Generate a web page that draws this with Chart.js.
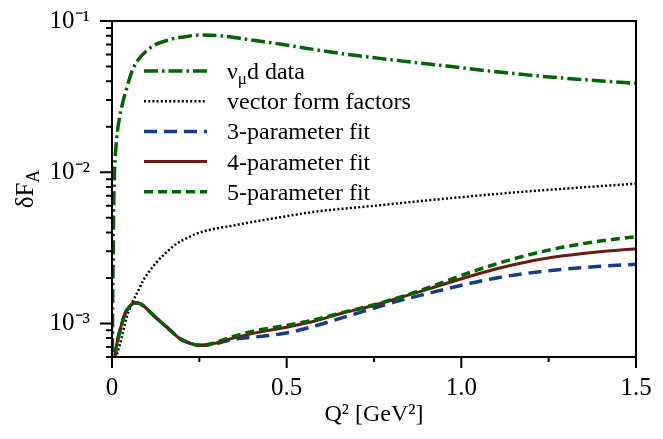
<!DOCTYPE html>
<html><head><meta charset="utf-8">
<script src="https://cdn.jsdelivr.net/npm/chart.js@4/dist/chart.umd.min.js"></script>
<style>html,body{margin:0;padding:0;background:#fff;} #wrap{width:663px;height:439px;}</style>
</head><body><div id="wrap"><canvas id="c" width="663" height="439"></canvas></div>
<script>
// ---- tick values / labels ----
const xTickValues = [0, 0.5, 1.0, 1.5];
const xTickLabels = ['0', '0.5', '1.0', '1.5'];
const xMinorTicks = [0.25, 0.75, 1.25];
const yTickValues = [1e-3, 1e-2, 1e-1];
const yTickLabels = ['10⁻³', '10⁻²', '10⁻¹'];
const yMinorTicks = [6e-4, 7e-4, 8e-4, 9e-4, 2e-3, 3e-3, 4e-3, 5e-3, 6e-3, 7e-3, 8e-3, 9e-3, 2e-2, 3e-2, 4e-2, 5e-2, 6e-2, 7e-2, 8e-2, 9e-2];
const xTitle = 'Q² [GeV²]';
const yTitle = 'δF_{A}';

// ---- series ----
const seriesLabels = ['ν_{μ}d data', 'vector form factors', '3-parameter fit', '4-parameter fit', '5-parameter fit'];

const dataQ2  = [0, 0.0015, 0.0037, 0.0052, 0.0072, 0.0129, 0.0229, 0.039, 0.061, 0.104, 0.171, 0.209, 0.25, 0.33, 0.386, 0.481, 0.576, 0.672, 0.767, 0.863, 0.958, 1.053, 1.149, 1.244, 1.340, 1.435, 1.5];
const dataVal = [1e-4, 1.0e-3, 3.0e-3, 6.5e-3, 1.0e-2, 1.63e-2, 2.38e-2, 3.4e-2, 4.87e-2, 6.5e-2, 7.6e-2, 7.87e-2, 8.08e-2, 7.9e-2, 7.56e-2, 7.04e-2, 6.49e-2, 6.02e-2, 5.66e-2, 5.33e-2, 5.04e-2, 4.74e-2, 4.5e-2, 4.28e-2, 4.11e-2, 3.96e-2, 3.87e-2];

const vectorQ2  = [0.008, 0.0135, 0.018, 0.0278, 0.0372, 0.0467, 0.061, 0.0753, 0.0896, 0.1088, 0.128, 0.1566, 0.185, 0.214, 0.238, 0.271, 0.309, 0.347, 0.386, 0.48, 0.576, 0.767, 0.958, 1.149, 1.340, 1.5];
const vectorVal = [4e-4, 6.0e-4, 6.63e-4, 8.11e-4, 1.0e-3, 1.188e-3, 1.42e-3, 1.654e-3, 1.927e-3, 2.244e-3, 2.547e-3, 2.966e-3, 3.37e-3, 3.66e-3, 3.89e-3, 4.12e-3, 4.29e-3, 4.44e-3, 4.62e-3, 5.03e-3, 5.46e-3, 6.05e-3, 6.70e-3, 7.34e-3, 7.92e-3, 8.4e-3];

const fitQ2   = [0.004, 0.0086, 0.015, 0.0229, 0.03, 0.0372, 0.05, 0.065, 0.08, 0.095, 0.109, 0.13, 0.157, 0.195, 0.22, 0.245, 0.27, 0.29, 0.347, 0.414, 0.5, 0.586, 0.653, 0.729, 0.815, 0.91, 1.006, 1.101, 1.197, 1.292, 1.388, 1.5];
const fit3Val = [4.2e-4, 6.0e-4, 7.5e-4, 9.0e-4, 1.03e-3, 1.16e-3, 1.29e-3, 1.37e-3, 1.35e-3, 1.28e-3, 1.19e-3, 1.07e-3, 9.45e-4, 7.92e-4, 7.45e-4, 7.18e-4, 7.18e-4, 7.28e-4, 7.85e-4, 8.15e-4, 8.65e-4, 9.7e-4, 1.08e-3, 1.22e-3, 1.40e-3, 1.59e-3, 1.80e-3, 2.0e-3, 2.16e-3, 2.28e-3, 2.38e-3, 2.46e-3];
const fit4Val = [4.2e-4, 6.0e-4, 7.5e-4, 9.0e-4, 1.03e-3, 1.16e-3, 1.29e-3, 1.37e-3, 1.35e-3, 1.28e-3, 1.19e-3, 1.07e-3, 9.45e-4, 7.92e-4, 7.45e-4, 7.18e-4, 7.2e-4, 7.34e-4, 8.0e-4, 8.7e-4, 9.45e-4, 1.045e-3, 1.16e-3, 1.28e-3, 1.46e-3, 1.70e-3, 1.99e-3, 2.30e-3, 2.58e-3, 2.80e-3, 2.97e-3, 3.12e-3];
const fit5Val = [4.2e-4, 6.0e-4, 7.5e-4, 9.0e-4, 1.03e-3, 1.16e-3, 1.29e-3, 1.37e-3, 1.35e-3, 1.28e-3, 1.19e-3, 1.07e-3, 9.45e-4, 7.92e-4, 7.45e-4, 7.18e-4, 7.22e-4, 7.4e-4, 8.2e-4, 9.0e-4, 9.7e-4, 1.065e-3, 1.17e-3, 1.29e-3, 1.47e-3, 1.74e-3, 2.10e-3, 2.48e-3, 2.86e-3, 3.2e-3, 3.48e-3, 3.75e-3];

const pts = (xs, ys) => xs.map((x, i) => ({x: x, y: ys[i]}));
const FONT = "'Liberation Serif', 'Times New Roman', serif";

const styles = [
  {color: '#006400', width: 3.5, dash: [14, 4, 2.5, 4], order: 4},
  {color: '#000000', width: 2.5, dash: [2, 2.2], order: 3},
  {color: '#143c8c', width: 3.5, dash: [13, 7], order: 2},
  {color: '#6e1a0e', width: 3, dash: [], order: 1},
  {color: '#006400', width: 3.5, dash: [9, 5], order: 0}
];
const seriesData = [pts(dataQ2, dataVal), pts(vectorQ2, vectorVal), pts(fitQ2, fit3Val), pts(fitQ2, fit4Val), pts(fitQ2, fit5Val)];

function drawRich(ctx, str, x, y, size) {
  const parts = str.split(/_\{(.*?)\}/);
  let cx = x;
  parts.forEach((p, i) => {
    if (!p) return;
    const sub = i % 2 === 1;
    ctx.font = (sub ? Math.round(size * 0.7) : size) + 'px ' + FONT;
    ctx.fillText(p, cx, y + (sub ? size * 0.22 : 0));
    cx += ctx.measureText(p).width;
  });
  return cx - x;
}
function measureRich(ctx, str, size) {
  const parts = str.split(/_\{(.*?)\}/);
  let w = 0;
  parts.forEach((p, i) => {
    if (!p) return;
    const sub = i % 2 === 1;
    ctx.font = (sub ? Math.round(size * 0.7) : size) + 'px ' + FONT;
    w += ctx.measureText(p).width;
  });
  return w;
}

const decorPlugin = {
  id: 'decor',
  beforeDraw(chart) {
    const ctx = chart.ctx;
    ctx.save(); ctx.fillStyle = '#fff'; ctx.fillRect(0, 0, chart.width, chart.height); ctx.restore();
  },
  afterDraw(chart) {
    const ctx = chart.ctx;
    const a = chart.chartArea;
    const xs = chart.scales.x, ys = chart.scales.y;
    ctx.save();
    ctx.strokeStyle = '#000';
    ctx.lineWidth = 2;
    ctx.setLineDash([]);
    ctx.strokeRect(a.left, a.top, a.right - a.left, a.bottom - a.top);
    ctx.beginPath();
    yTickValues.forEach(v => { const p = ys.getPixelForValue(v); ctx.moveTo(a.left - 12, p); ctx.lineTo(a.left, p); });
    yMinorTicks.forEach(v => { const p = ys.getPixelForValue(v); ctx.moveTo(a.left - 6, p); ctx.lineTo(a.left, p); });
    xTickValues.forEach(v => { const p = xs.getPixelForValue(v); ctx.moveTo(p, a.bottom); ctx.lineTo(p, a.bottom + 11); });
    xMinorTicks.forEach(v => { const p = xs.getPixelForValue(v); ctx.moveTo(p, a.bottom); ctx.lineTo(p, a.bottom + 5); });
    ctx.stroke();

    // legend
    chart.data.datasets.forEach((ds, i) => {
      const y = 71 + i * 30.2;
      ctx.save();
      ctx.strokeStyle = ds.borderColor;
      ctx.lineWidth = ds.borderWidth;
      ctx.setLineDash(ds.borderDash || []);
      ctx.lineCap = 'butt';
      ctx.beginPath(); ctx.moveTo(144, y); ctx.lineTo(207, y); ctx.stroke();
      ctx.restore();
      ctx.fillStyle = '#000';
      ctx.textBaseline = 'alphabetic';
      ctx.textAlign = 'left';
      drawRich(ctx, seriesLabels[i], 227, y + 8, 24);
    });

    // y title
    ctx.save();
    ctx.translate(33, (a.top + a.bottom) / 2);
    ctx.rotate(-Math.PI / 2);
    ctx.fillStyle = '#000';
    ctx.textBaseline = 'alphabetic';
    ctx.textAlign = 'left';
    const w = measureRich(ctx, yTitle, 25);
    drawRich(ctx, yTitle, -w / 2, 0, 25);
    ctx.restore();
    ctx.restore();
  }
};

new Chart(document.getElementById('c'), {
  type: 'line',
  data: {
    datasets: seriesData.map((d, i) => ({
      label: seriesLabels[i],
      data: d,
      borderColor: styles[i].color,
      borderWidth: styles[i].width,
      borderDash: styles[i].dash,
      borderCapStyle: 'butt',
      order: styles[i].order,
      pointRadius: 0,
      fill: false,
      cubicInterpolationMode: 'monotone'
    }))
  },
  options: {
    responsive: false,
    animation: false,
    devicePixelRatio: 1,
    layout: {padding: {left: 0, right: 27, top: 21, bottom: 0}},
    plugins: {legend: {display: false}, tooltip: {enabled: false}},
    scales: {
      x: {
        type: 'linear', min: 0, max: 1.5,
        afterBuildTicks: s => { s.ticks = xTickValues.map(v => ({value: v})); },
        afterFit: s => { s.height = 82; },
        ticks: {callback: (v, i) => xTickLabels[i], color: '#000', font: {family: FONT, size: 25}, padding: 0, maxRotation: 0, autoSkip: false},
        grid: {display: false, drawTicks: true, tickLength: 16},
        border: {display: false},
        title: {display: true, text: xTitle, color: '#000', font: {family: FONT, size: 24}, padding: {top: 0, bottom: 10}}
      },
      y: {
        type: 'logarithmic', min: 6e-4, max: 0.1,
        afterBuildTicks: s => { s.ticks = yTickValues.map(v => ({value: v})); },
        afterFit: s => { s.width = 112; },
        ticks: {callback: (v, i) => yTickLabels[i], color: '#000', font: {family: FONT, size: 25}, padding: 0, autoSkip: false},
        grid: {display: false, drawTicks: true, tickLength: 22},
        border: {display: false}
      }
    }
  },
  plugins: [decorPlugin]
});
</script></body></html>
